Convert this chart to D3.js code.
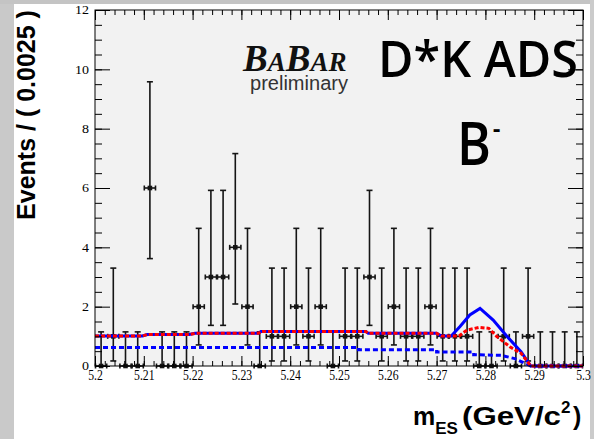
<!DOCTYPE html>
<html>
<head>
<meta charset="utf-8">
<script src="https://cdn.jsdelivr.net/npm/d3@7"></script>
<style>
body { margin: 0; background: #fff; }
svg { display: block; }
</style>
</head>
<body>
<div id="main"></div>
<script>
// histogram: mES bins of 0.0025 GeV/c2
var binCenters = [5.20125, 5.20375, 5.20625, 5.20875, 5.21125, 5.21375, 5.21625, 5.21875,
    5.22125, 5.22375, 5.22625, 5.22875, 5.23125, 5.23375, 5.23625, 5.23875,
    5.24125, 5.24375, 5.24625, 5.24875, 5.25125, 5.25375, 5.25625, 5.25875,
    5.26125, 5.26375, 5.26625, 5.26875, 5.27125, 5.27375, 5.27625, 5.27875,
    5.28125, 5.28375, 5.28625, 5.28875, 5.29125, 5.29375, 5.29625, 5.29875];
var counts = [0, 1, 0, 0, 6, 0, 0, 0, 2, 3, 3, 4, 2, 0, 1, 1, 2, 1, 2, 0,
    1, 1, 3, 1, 2, 1, 1, 2, 1, 1, 1, 0, 0, 1, 0, 1, 0, 0, 0, 0];
var binWidth = 0.0025;

// poisson error bar ends per count
var countLevels = [0, 1, 2, 3, 4, 6];
var barLow = [0, 0.17, 0.71, 1.37, 2.09, 3.62];
var barHigh = [1.15, 3.30, 4.64, 5.92, 7.16, 9.58];

// fit curves
var totalX = [5.200, 5.2097, 5.2107, 5.2193, 5.2205, 5.2335, 5.2340, 5.2555, 5.2560, 5.2700, 5.2710,
    5.2730, 5.2748, 5.2768, 5.2789, 5.2816, 5.2844, 5.2873, 5.2893, 5.3000];
var totalY = [1.01, 1.01, 1.06, 1.06, 1.10, 1.10, 1.16, 1.16, 1.10, 1.10, 1.01,
    1.01, 1.33, 1.72, 1.94, 1.55, 1.00, 0.48, 0.00, 0.00];
var redX = [5.200, 5.2097, 5.2107, 5.2193, 5.2205, 5.2335, 5.2340, 5.2555, 5.2560, 5.2700, 5.2710,
    5.2746, 5.2762, 5.2787, 5.2807, 5.2823, 5.2850, 5.2873, 5.2893, 5.3000];
var redY = [1.01, 1.01, 1.06, 1.06, 1.10, 1.10, 1.16, 1.16, 1.10, 1.10, 1.01,
    1.01, 1.21, 1.30, 1.27, 1.00, 0.65, 0.43, 0.00, 0.00];
var bkgX = [5.200, 5.2540, 5.2540, 5.2700, 5.2700, 5.2776, 5.2776, 5.2832, 5.2860, 5.2893, 5.3000];
var bkgY = [0.62, 0.62, 0.55, 0.55, 0.47, 0.47, 0.38, 0.36, 0.25, 0.00, 0.00];

var xTicks = [5.2, 5.21, 5.22, 5.23, 5.24, 5.25, 5.26, 5.27, 5.28, 5.29, 5.3];
var xTickLabels = ['5.2', '5.21', '5.22', '5.23', '5.24', '5.25', '5.26', '5.27', '5.28', '5.29', '5.3'];
var yTicks = [0, 2, 4, 6, 8, 10, 12];
var yTickLabels = ['0', '2', '4', '6', '8', '10', '12'];

var width = 594, height = 439;
var plot = {left: 95, right: 583, top: 10, bottom: 366};

var svg = d3.select('#main').append('svg')
    .attr('width', width)
    .attr('height', height);

// slide background showing at the edges
svg.append('rect').attr('x', 0).attr('y', 0).attr('width', width).attr('height', height).attr('fill', '#fff');
svg.append('rect').attr('x', 0).attr('y', 0).attr('width', 14).attr('height', height).attr('fill', '#c9c9c9');
svg.append('rect').attr('x', 0).attr('y', 0).attr('width', width).attr('height', 4).attr('fill', '#c4c4c4');
svg.append('rect').attr('x', 590).attr('y', 0).attr('width', 4).attr('height', height).attr('fill', '#cbcbcb');

var x = d3.scaleLinear().domain([5.2, 5.3]).range([plot.left, plot.right]);
var y = d3.scaleLinear().domain([0, 12]).range([plot.bottom, plot.top]);

svg.append('rect')
    .attr('x', plot.left).attr('y', plot.top)
    .attr('width', plot.right - plot.left).attr('height', plot.bottom - plot.top)
    .attr('fill', '#f2f2f2');

// data points with error bars
var ink = '#151515';
var pts = svg.append('g').attr('class', 'data')
    .attr('stroke', ink).attr('stroke-width', 1.6).attr('fill', ink);

pts.selectAll('g')
    .data(d3.zip(binCenters, counts))
    .enter()
    .append('g')
    .each(function(d){
        var g = d3.select(this);
        var k = countLevels.indexOf(d[1]);
        var cx = x(d[0]);
        var lo = y(barLow[k]), hi = y(barHigh[k]), cy = y(d[1]);
        var xl = x(d[0] - binWidth / 2) + 0.5, xr = x(d[0] + binWidth / 2) - 0.5;
        g.append('line').attr('x1', cx).attr('x2', cx).attr('y1', lo).attr('y2', hi);
        g.append('line').attr('x1', cx - 3).attr('x2', cx + 3).attr('y1', hi).attr('y2', hi);
        g.append('line').attr('x1', cx - 3).attr('x2', cx + 3).attr('y1', lo).attr('y2', lo);
        g.append('line').attr('x1', xl).attr('x2', xr).attr('y1', cy).attr('y2', cy);
        g.append('line').attr('x1', xl).attr('x2', xl).attr('y1', cy - 2.5).attr('y2', cy + 2.5);
        g.append('line').attr('x1', xr).attr('x2', xr).attr('y1', cy - 2.5).attr('y2', cy + 2.5);
        g.append('rect').attr('x', cx - 1.5).attr('y', cy - 1.5).attr('width', 3).attr('height', 3);
    });

// fit curves
var line = d3.line()
    .x(d => x(d[0]))
    .y(d => y(d[1]));

svg.append('path')
    .datum(d3.zip(bkgX, bkgY))
    .attr('d', line)
    .attr('fill', 'none')
    .attr('stroke', '#0000ff')
    .attr('stroke-width', 3)
    .attr('stroke-dasharray', '5,3');

svg.append('path')
    .datum(d3.zip(totalX, totalY))
    .attr('d', line)
    .attr('fill', 'none')
    .attr('stroke', '#0000ff')
    .attr('stroke-width', 3);

svg.append('path')
    .datum(d3.zip(redX, redY))
    .attr('d', line)
    .attr('fill', 'none')
    .attr('stroke', '#ff0000')
    .attr('stroke-width', 3)
    .attr('stroke-dasharray', '4,2');

// axes: ticks point inward on all four sides
var xMinor = d3.range(5.2, 5.3001, 0.002);
var yMinor = d3.range(0, 12.01, 0.5);

function styleAxis(g){
    g.select('.domain').remove();
    g.selectAll('line').attr('stroke', '#000').attr('stroke-width', 1);
}

svg.append('g')
    .attr('transform', 'translate(0,' + plot.bottom + ')')
    .call(d3.axisBottom(x).tickValues(xMinor).tickSize(-5).tickFormat(''))
    .call(styleAxis);
var xAxis = svg.append('g')
    .attr('transform', 'translate(0,' + plot.bottom + ')')
    .call(d3.axisBottom(x).tickValues(xTicks).tickSize(-10).tickPadding(3)
        .tickFormat((d, i) => xTickLabels[i]))
    .call(styleAxis);
xAxis.selectAll('text')
    .attr('font-family', 'Liberation Serif, Times New Roman, serif')
    .attr('font-size', 15)
    .attr('fill', '#000')
    .attr('transform', 'scale(0.78,1)');

svg.append('g')
    .attr('transform', 'translate(0,' + plot.top + ')')
    .call(d3.axisTop(x).tickValues(xMinor).tickSize(-5).tickFormat(''))
    .call(styleAxis);
svg.append('g')
    .attr('transform', 'translate(0,' + plot.top + ')')
    .call(d3.axisTop(x).tickValues(xTicks).tickSize(-10).tickFormat(''))
    .call(styleAxis);

svg.append('g')
    .attr('transform', 'translate(' + plot.left + ',0)')
    .call(d3.axisLeft(y).tickValues(yMinor).tickSize(-7).tickFormat(''))
    .call(styleAxis);
var yAxis = svg.append('g')
    .attr('transform', 'translate(' + plot.left + ',0)')
    .call(d3.axisLeft(y).tickValues(yTicks).tickSize(-15).tickPadding(6)
        .tickFormat((d, i) => yTickLabels[i]))
    .call(styleAxis);
yAxis.selectAll('text')
    .attr('font-family', 'Liberation Serif, Times New Roman, serif')
    .attr('font-size', 14)
    .attr('fill', '#000')
    .attr('transform', 'scale(1,0.82)');

svg.append('g')
    .attr('transform', 'translate(' + plot.right + ',0)')
    .call(d3.axisRight(y).tickValues(yMinor).tickSize(-7).tickFormat(''))
    .call(styleAxis);
svg.append('g')
    .attr('transform', 'translate(' + plot.right + ',0)')
    .call(d3.axisRight(y).tickValues(yTicks).tickSize(-15).tickFormat(''))
    .call(styleAxis);

svg.append('rect')
    .attr('x', plot.left).attr('y', plot.top)
    .attr('width', plot.right - plot.left).attr('height', plot.bottom - plot.top)
    .attr('fill', 'none').attr('stroke', '#000').attr('stroke-width', 1);

// axis titles
svg.append('text')
    .attr('transform', 'translate(35,115) rotate(-90)')
    .attr('text-anchor', 'middle')
    .attr('font-family', 'Liberation Sans, Arial, sans-serif')
    .attr('font-weight', 'bold')
    .attr('font-size', 25)
    .text('Events / ( 0.0025 )');

var sans = 'Liberation Sans, Arial, sans-serif';
var xTitle = svg.append('text').attr('x', 413).attr('y', 425)
    .attr('font-family', sans).attr('font-weight', 'bold').attr('font-size', 25);
xTitle.append('tspan').text('m');
xTitle.append('tspan').attr('font-size', 17).attr('dy', 9).text('ES');
xTitle.append('tspan').attr('x', 462).attr('dy', -9)
    .attr('textLength', 99).attr('lengthAdjust', 'spacingAndGlyphs').text('(GeV/c');
xTitle.append('tspan').attr('font-size', 17).attr('dy', -12).text('2');
xTitle.append('tspan').attr('x', 573).attr('dy', 12).text(')');

// BaBar logo, "preliminary" set as a second line of the same text
var logo = svg.append('text')
    .attr('x', 243).attr('y', 71)
    .attr('font-family', 'Liberation Serif, Times New Roman, serif')
    .attr('font-weight', 'bold')
    .attr('font-style', 'italic')
    .attr('fill', '#111');
logo.append('tspan').attr('font-size', 37).text('B');
logo.append('tspan').attr('font-size', 27).text('A');
logo.append('tspan').attr('font-size', 37).text('B');
logo.append('tspan').attr('font-size', 27).text('AR');
logo.append('tspan')
    .attr('x', 250).attr('y', 90)
    .attr('font-family', sans)
    .attr('font-weight', 'normal')
    .attr('font-style', 'normal')
    .attr('font-size', 20)
    .attr('fill', '#333')
    .attr('textLength', 98)
    .attr('lengthAdjust', 'spacingAndGlyphs')
    .text('preliminary');

// slide annotations
var hand = 'Comic Sans MS, Open Sans, sans-serif';
svg.append('text')
    .attr('x', 378).attr('y', 77)
    .attr('font-family', hand)
    .attr('font-weight', 600)
    .attr('font-size', 50)
    .attr('textLength', 200)
    .attr('lengthAdjust', 'spacingAndGlyphs')
    .text('D*K ADS');
var bminus = svg.append('text')
    .attr('transform', 'translate(457,165) scale(0.86,1)')
    .attr('font-family', hand)
    .attr('font-weight', 600)
    .attr('font-size', 60);
bminus.append('tspan').text('B');
bminus.append('tspan').attr('font-size', 28).attr('dx', 2).attr('dy', -27).text('-');
</script>
</body>
</html>
